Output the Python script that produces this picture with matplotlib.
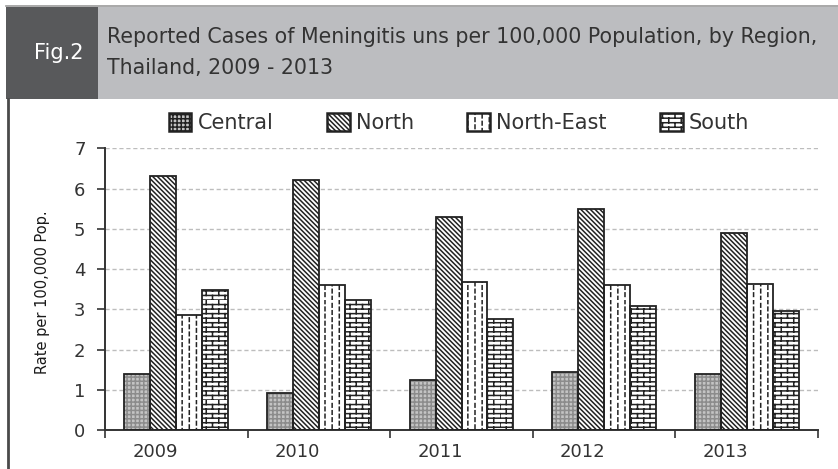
"""
Fig.2 - Reported cases of meningitis per 100,000 population by region,
Thailand 2009-2013 (patterned grayscale bar chart).

Output: out.png
"""
import numpy as np
import matplotlib
matplotlib.use('Agg')
import matplotlib.pyplot as plt
import matplotlib.hatch as mhatch
from matplotlib.path import Path
from matplotlib.patches import Patch, Rectangle
from matplotlib.lines import Line2D

years = ['2009', '2010', '2011', '2012', '2013']
regions = ['Central', 'North', 'North-East', 'South']
central = [1.40, 0.92, 1.25, 1.44, 1.38]
north = [6.30, 6.21, 5.30, 5.49, 4.90]
north_east = [2.85, 3.60, 3.68, 3.60, 3.62]
south = [3.47, 3.24, 2.77, 3.08, 2.95]


# --- custom hatch patterns (brick wall, dashed verticals) ---
class BrickHatch(mhatch.HatchPatternBase):
    def __init__(self, hatch, density):
        on = hatch.count('B') > 0
        self.rows = 22 if on else 0
        self.cols = 8
        self.num_vertices = self.rows * 2 + self.rows * self.cols * 2

    def set_vertices_and_codes(self, vertices, codes):
        k = 0
        for i in range(self.rows):
            y0 = i / self.rows
            y1 = (i + 1) / self.rows
            vertices[k] = (0.0, y0)
            vertices[k + 1] = (1.0, y0)
            codes[k] = Path.MOVETO
            codes[k + 1] = Path.LINETO
            k += 2
            shift = 0.5 * (i % 2)
            for j in range(self.cols):
                x = (j + shift) / self.cols
                vertices[k] = (x, y0)
                vertices[k + 1] = (x, y1)
                codes[k] = Path.MOVETO
                codes[k + 1] = Path.LINETO
                k += 2


class DashHatch(mhatch.HatchPatternBase):
    def __init__(self, hatch, density):
        on = hatch.count('V') > 0
        self.cols = 14 if on else 0
        self.dashes = 14
        self.num_vertices = self.cols * self.dashes * 2

    def set_vertices_and_codes(self, vertices, codes):
        k = 0
        period = 1.0 / self.dashes
        for c in range(self.cols):
            x = (c + 0.5) / self.cols
            off = 0.5 * period * (c % 2)
            for d in range(self.dashes):
                y0 = d * period + off
                y1 = y0 + 0.5 * period
                vertices[k] = (x, y0)
                vertices[k + 1] = (x, y1)
                codes[k] = Path.MOVETO
                codes[k + 1] = Path.LINETO
                k += 2


mhatch._hatch_types.append(BrickHatch)
mhatch._hatch_types.append(DashHatch)

plt.rcParams['font.family'] = ['DejaVu Sans']
plt.rcParams['hatch.linewidth'] = 1.1

W, H = 838, 469
fig = plt.figure(figsize=(W / 100, H / 100), dpi=100)


def fx(px):
    return px / W


def fy(py):
    return 1 - py / H


# header band
fig.patches.append(Rectangle((fx(6), fy(99)), fx(838 - 6), (99 - 7) / H,
                             transform=fig.transFigure, facecolor='#bcbdc0',
                             edgecolor='none'))
fig.patches.append(Rectangle((fx(6), fy(99)), fx(98 - 6), (99 - 7) / H,
                             transform=fig.transFigure, facecolor='#58595b',
                             edgecolor='none'))
fig.lines.append(Line2D([fx(6), 1], [fy(6), fy(6)], transform=fig.transFigure,
                        color='#9a9a9a', lw=1.2))
fig.lines.append(Line2D([fx(8), fx(8)], [fy(99), 0], transform=fig.transFigure,
                        color='#4a4a4a', lw=2))

fig.text(fx(59), fy(53), 'Fig.2', color='white', fontsize=15,
         ha='center', va='center')
fig.text(fx(107), fy(37),
         'Reported Cases of Meningitis uns per 100,000 Population, by Region,',
         color='#333333', fontsize=14.8, ha='left', va='center')
fig.text(fx(107), fy(68), 'Thailand, 2009 - 2013',
         color='#333333', fontsize=14.8, ha='left', va='center')

# chart
ax = fig.add_axes([fx(105), fy(430), fx(818 - 105), (430 - 148.3) / H])

x = np.arange(len(years))
bw = 0.182
series = [central, north, north_east, south]
faces = ['#c4c4c4', 'white', 'white', 'white']
hatches = ['++++', '\\\\\\\\\\\\\\', 'V', 'B']
hcolors = ['#8c8c8c', '#222222', '#222222', '#222222']

handles = []
for i, vals in enumerate(series):
    pos = x + (i - 1.5) * bw
    ax.bar(pos, vals, bw, color=faces[i], hatch=hatches[i],
           edgecolor=hcolors[i], linewidth=0, zorder=2)
    ax.bar(pos, vals, bw, fill=False, edgecolor='#222222', linewidth=1.3,
           zorder=3)
    handles.append(Patch(facecolor=faces[i], hatch=hatches[i],
                         edgecolor='#222222', linewidth=1.8, label=regions[i]))

ax.set_xlim(-0.5, len(years) - 0.5)
ax.set_ylim(0, 7)
ax.set_yticks(range(0, 8))
ax.yaxis.grid(True, linestyle=(0, (3, 2)), color='#bdbdbd', lw=1, zorder=0)
ax.set_axisbelow(True)

# category boundaries as major ticks, year labels on minor ticks
# (the source prints the year labels a little left of each group centre)
ax.set_xticks(np.arange(-0.5, len(years), 1.0))
ax.set_xticklabels([])
ax.set_xticks(x - 0.15, minor=True)
ax.set_xticklabels(years, minor=True)
ax.tick_params(axis='x', which='major', length=6, width=1.2, color='#333333')
ax.tick_params(axis='x', which='minor', length=0, labelsize=13,
               labelcolor='#333333', pad=9)
ax.tick_params(axis='y', length=6, width=1.2, color='#333333', labelsize=13,
               labelcolor='#333333', pad=8)

for s in ['top', 'right']:
    ax.spines[s].set_visible(False)
for s in ['left', 'bottom']:
    ax.spines[s].set_linewidth(1.4)
    ax.spines[s].set_color('#333333')

fig.text(fx(42), fy(292), 'Rate per 100,000 Pop.', rotation=90,
         fontsize=10.5, color='#1a1a1a', ha='center', va='center')

fig.legend(handles=handles, loc='center', bbox_to_anchor=(fx(459), fy(123)),
           ncol=4, frameon=False, fontsize=15, handlelength=1.1,
           handleheight=1.0, columnspacing=2.55, handletextpad=0.3,
           labelcolor='#333333')

fig.savefig('out.png', dpi=100)
